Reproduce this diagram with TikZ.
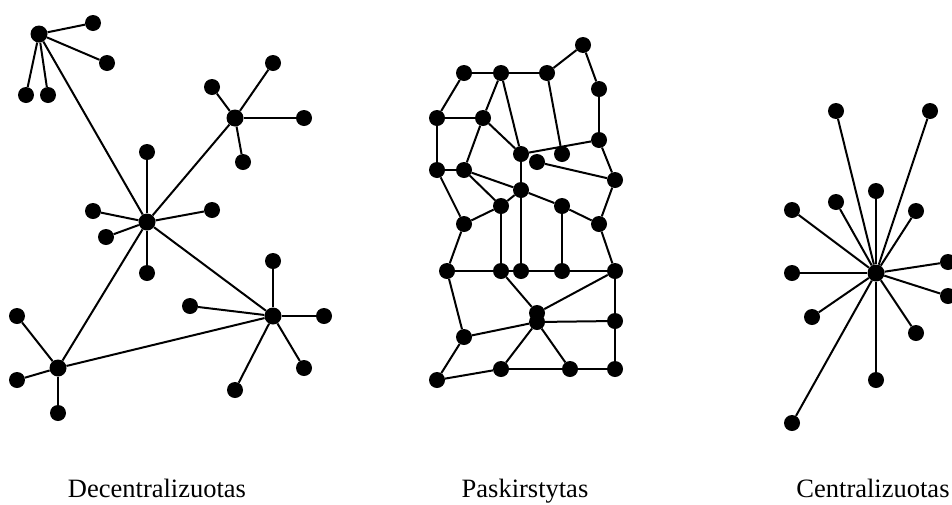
\documentclass[tikz,border=0pt]{standalone}
\usepackage{fontspec}
\setmainfont{Liberation Serif}
\begin{document}
\begin{tikzpicture}[x=1pt,y=-1pt,
  dot/.style={circle,fill=black,inner sep=0pt,minimum size=16pt},
  hub/.style={dot,minimum size=17pt},
  link/.style={line width=2pt},
  caption/.style={anchor=base,inner sep=0pt,font=\fontsize{26.5}{30}\selectfont}]
\useasboundingbox (0,0) rectangle (952,504);

% ---------- decentralised network ----------
\node[hub] (A) at (39,34) {};
\node[hub] (B) at (235,118) {};
\node[hub] (C) at (147,222) {};
\node[hub] (D) at (273,316) {};
\node[hub] (E) at (58,368) {};
\foreach \n/\x/\y in {a1/93/23, a2/107/63, a3/26/95, a4/48/95}
  {\node[dot] (\n) at (\x,\y) {}; \draw[link] (A) -- (\n);}
\foreach \n/\x/\y in {b1/273/63, b2/212/87, b3/304/118, b4/243/162}
  {\node[dot] (\n) at (\x,\y) {}; \draw[link] (B) -- (\n);}
\foreach \n/\x/\y in {c1/93/211, c2/212/210, c3/106/237, c4/147/273, c5/147/152}
  {\node[dot] (\n) at (\x,\y) {}; \draw[link] (C) -- (\n);}
\foreach \n/\x/\y in {d1/273/261, d2/190/306, d3/324/316, d4/304/368, d5/235/390}
  {\node[dot] (\n) at (\x,\y) {}; \draw[link] (D) -- (\n);}
\foreach \n/\x/\y in {e1/17/316, e2/17/380, e3/58/413}
  {\node[dot] (\n) at (\x,\y) {}; \draw[link] (E) -- (\n);}
\draw[link] (A) -- (C) (B) -- (C) (C) -- (D) (C) -- (E) (E) -- (D);

% ---------- distributed mesh ----------
\foreach \n/\x/\y in {
  m1/583/45, m2/464/73, m3/501/73, m4/547/73, m5/599/89,
  m6/437/118, m7/483/118, m8/599/140, m9/521/154, m10/562/154,
  m11/537/162, m12/437/170, m13/464/170, m14/615/180, m15/521/190,
  m16/501/206, m17/562/206, m18/464/224, m19/599/224,
  m20/447/271, m21/501/271, m22/521/271, m23/562/271, m24/615/271,
  m25/537/313, m26/537/322, m27/615/321, m28/464/337,
  m29/501/369, m30/570/369, m31/615/369, m32/437/380}
  {\node[dot] (\n) at (\x,\y) {};}
\foreach \p/\q in {
  m2/m3, m3/m4, m4/m1, m1/m5, m5/m8, m2/m6, m6/m7, m3/m7, m3/m9,
  m4/m10, m9/m8, m7/m9, m6/m12, m7/m13, m12/m13, m11/m14, m8/m14,
  m9/m15, m13/m15, m13/m16, m15/m16, m15/m17, m12/m18, m16/m18,
  m17/m19, m14/m19, m18/m20, m19/m24, m16/m21, m15/m22, m17/m23,
  m20/m21, m21/m22, m22/m23, m23/m24, m21/m25, m24/m25, m26/m27,
  m24/m27, m27/m31, m20/m28, m28/m26, m28/m32, m32/m29, m29/m26,
  m26/m30, m29/m30, m30/m31}
  {\draw[link] (\p) -- (\q);}

% ---------- centralised star ----------
\node[hub] (H) at (876,273) {};
\foreach \n/\x/\y in {
  s1/836/111, s2/930/111, s3/876/191, s4/836/202, s5/792/210,
  s6/916/211, s7/792/273, s8/948/262, s9/948/296, s10/812/317,
  s11/916/333, s12/876/380, s13/792/423}
  {\node[dot] (\n) at (\x,\y) {}; \draw[link] (H) -- (\n);}

% ---------- captions ----------
\node[caption] (t1) at (157,497) {Decentralizuotas};
\node[caption] (t2) at (525,497) {Paskirstytas};
\node[caption] (t3) at (873,497) {Centralizuotas};
\end{tikzpicture}
\end{document}
